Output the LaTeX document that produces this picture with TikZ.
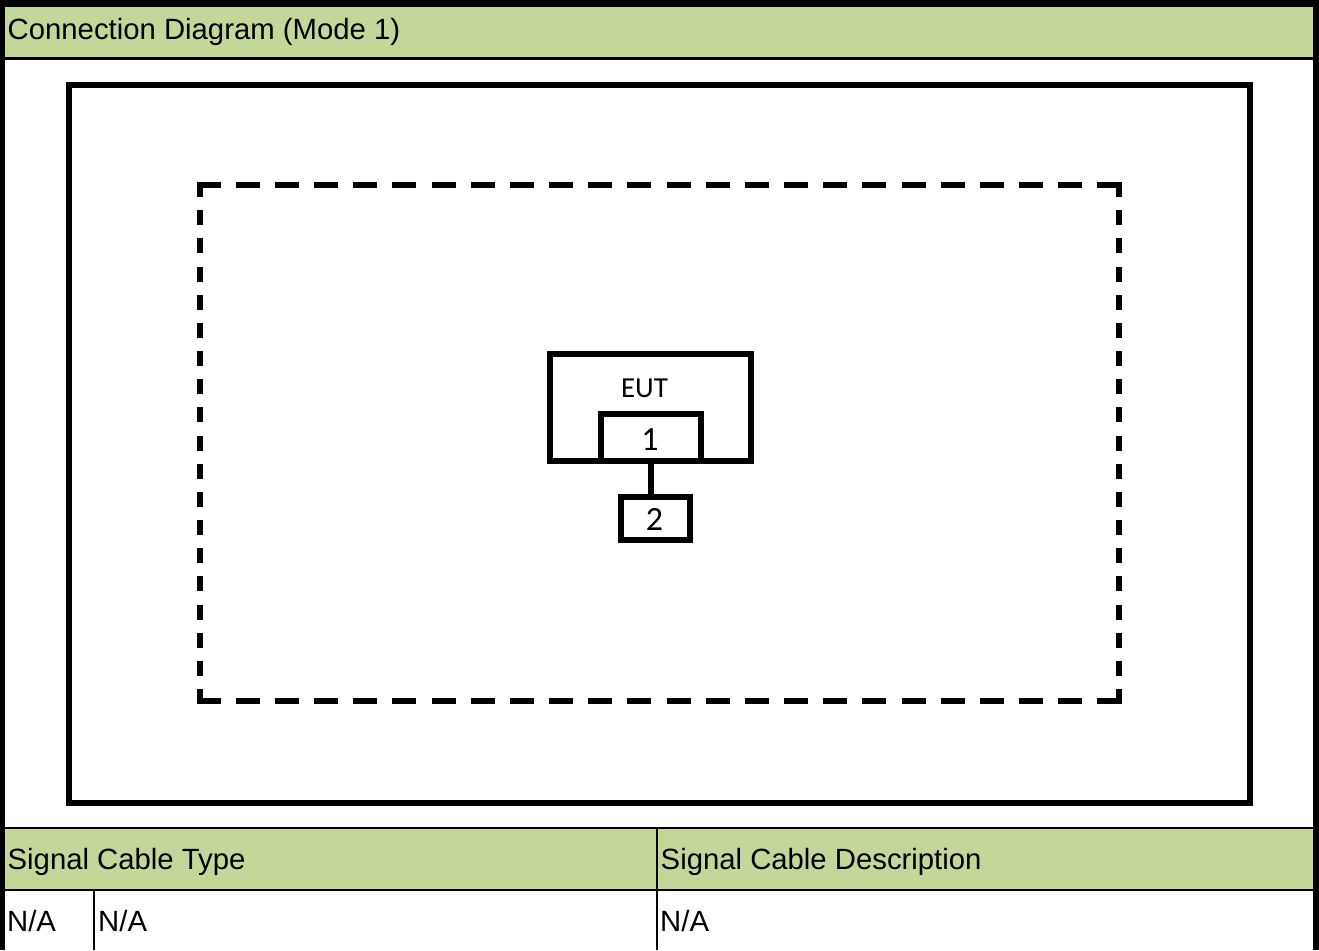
\documentclass[tikz,border=0pt]{standalone}
\usepackage{fontspec}
\setmainfont{Liberation Sans}
\newfontfamily\cali{Carlito}
\definecolor{hdrgreen}{RGB}{196,215,155}
\tikzset{
  cellfill/.style={fill=hdrgreen, draw=none, inner sep=0pt, outer sep=0pt},
  celltext/.style={anchor=base west, inner sep=0pt, font=\fontsize{29.3}{31}\selectfont},
  thickbox/.style={draw=black, line width=6pt, inner sep=0pt, outer sep=0pt},
  boxtext/.style={anchor=base, inner sep=0pt, font=\cali\fontsize{29}{31}\selectfont},
  digittext/.style={anchor=base, inner sep=0pt, font=\cali\fontsize{34}{36}\selectfont},
  hdash/.style={line width=6pt, dash pattern=on 24pt off 15.17pt},
  vdash/.style={line width=6pt, dash pattern=on 15pt off 13.17pt},
  wire/.style={line width=6pt}
}
\begin{document}
\begin{tikzpicture}[x=1pt, y=-1pt]
  \useasboundingbox (0,0) rectangle (1319,950);
  \fill[white] (0,0) rectangle (1319,950);

  % title bar
  \node[cellfill, minimum width=1319pt, minimum height=50.5pt] (titlecell) at (659.5,32.25) {};
  \node[celltext] (title) at (7.5,40) {Connection Diagram (Mode 1)};
  \fill (0,57.5) rectangle (1319,60);

  % test room boundary
  \node[thickbox, minimum width=1181.5pt, minimum height=718pt] (room) at (659.25,444) {};

  % table top (dashed zone)
  \node[minimum width=919pt, minimum height=515.5pt, inner sep=0pt, outer sep=0pt] (zone) at (659,442.75) {};
  \draw[hdash] ([xshift=-3pt]zone.north west) -- ([xshift=3pt]zone.north east);
  \draw[hdash] ([xshift=-3pt]zone.south west) -- ([xshift=3pt]zone.south east);
  \draw[vdash] ([yshift=3pt]zone.north west) -- ([yshift=-3pt]zone.south west);
  \draw[vdash] ([yshift=3pt]zone.north east) -- ([yshift=-3pt]zone.south east);

  % equipment under test with its port and attached device
  \node[thickbox, minimum width=201pt, minimum height=107pt] (eut) at (650.5,407.5) {};
  \node[boxtext] (eutlabel) at (644.5,397) {EUT};
  \node[thickbox, minimum width=100pt, minimum height=47pt] (port) at (651,437.5) {};
  \node[digittext] (portlabel) at (650,450) {1};
  \node[thickbox, minimum width=69pt, minimum height=42.5pt] (dev) at (655.5,518.25) {};
  \node[digittext] (devlabel) at (654.5,530) {2};
  \draw[wire] (port.south) -- (port.south |- dev.north);

  % cable table
  \fill (0,827) rectangle (1319,829);
  \node[cellfill, minimum width=1319pt, minimum height=59.5pt] (hdrcell) at (659.5,858.75) {};
  \fill (0,888.5) rectangle (1319,891);
  \fill (656,827) rectangle (658,950);
  \fill (93,889) rectangle (95,950);
  \node[celltext] (typehdr) at (7.5,869) {Signal Cable Type};
  \node[celltext] (deschdr) at (660.5,869) {Signal Cable Description};
  \node[celltext] (num) at (7,931.5) {N/A};
  \node[celltext] (type) at (98,931.5) {N/A};
  \node[celltext] (desc) at (660,931.5) {N/A};

  % outer frame
  \fill (0,0) rectangle (1319,7);
  \fill (0,0) rectangle (4.5,950);
  \fill (1313,0) rectangle (1319,950);
\end{tikzpicture}
\end{document}
